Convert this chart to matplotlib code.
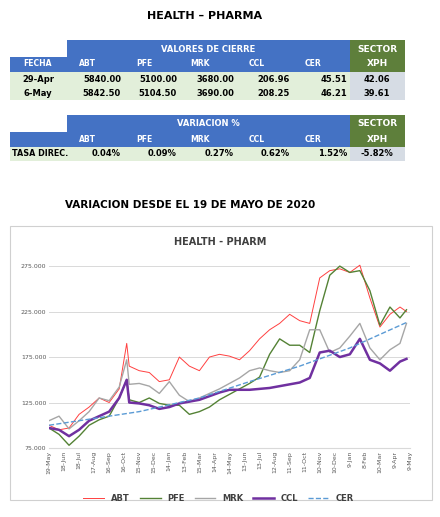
import numpy as np
import pandas as pd
import matplotlib.pyplot as plt
import matplotlib.dates as mdates
from matplotlib.patches import Rectangle

# --- data ---
tickers = ['ABT', 'PFE', 'MRK', 'CCL', 'CER']
dates_tbl = ['29-Apr', '6-May']
closes = [['5840.00', '5100.00', '3680.00', '206.96', '45.51', '42.06'],
          ['5842.50', '5104.50', '3690.00', '208.25', '46.21', '39.61']]
variacion = ['0.04%', '0.09%', '0.27%', '0.62%', '1.52%', '-5.82%']

days = [0, 20, 40, 60, 80, 100, 120, 140, 155, 160, 180, 200, 220, 240, 260, 280, 300, 320,
        340, 360, 380, 400, 420, 440, 460, 480, 500, 520, 540, 560, 580, 600, 620, 640,
        660, 680, 700, 713]
abt = [100, 95, 97, 112, 120, 130, 125, 140, 190, 165, 160, 158, 148, 150, 175, 165, 160, 175,
       178, 176, 172, 182, 195, 205, 212, 222, 215, 212, 262, 270, 272, 268, 276, 240,
       208, 222, 230, 225]
pfe = [97, 90, 78, 88, 100, 106, 110, 130, 150, 128, 125, 130, 124, 122, 122, 112, 115, 120,
       128, 134, 140, 146, 153, 178, 195, 188, 188, 180, 226, 265, 275, 268, 270, 248,
       210, 230, 218, 227]
mrk = [105, 110, 96, 105, 115, 130, 127, 142, 172, 145, 146, 143, 135, 148, 133, 126, 130, 135,
       140, 146, 152, 160, 163, 160, 158, 160, 172, 205, 205, 180, 185, 198, 212, 185,
       172, 183, 190, 212]
ccl = [97, 95, 88, 95, 105, 110, 115, 130, 150, 125, 124, 122, 118, 120, 124, 126, 128, 132,
       136, 139, 139, 139, 140, 141, 143, 145, 147, 152, 180, 182, 175, 178, 195, 172,
       168, 160, 170, 173]
cer_days = [0, 180, 300, 400, 500, 600, 713]
cer = [100, 115, 130, 148, 165, 185, 213]

start = pd.Timestamp('2020-05-19')
t = start + pd.to_timedelta(days, unit='D')
t_cer = start + pd.to_timedelta(cer_days, unit='D')

W, H = 440, 517
fig = plt.figure(figsize=(W / 100, H / 100), dpi=100)
bg = fig.add_axes([0, 0, 1, 1])
bg.set_xlim(0, W)
bg.set_ylim(H, 0)
bg.axis('off')

blue = '#4472C4'
green = '#5E7F3B'
light = '#E2EFDA'
grayc = '#D6DCE4'
cols = [10, 67, 124, 180, 237, 293, 350, 405]

bg.text(205, 16, 'HEALTH \u2013 PHARMA', ha='center', va='center', fontsize=8, fontweight='bold')


def cell(x0, x1, y0, y1, color):
    bg.add_patch(Rectangle((x0, y0), x1 - x0, y1 - y0, color=color, lw=0))


def header(y0, title):
    cell(67, 350, y0, y0 + 32, blue)
    cell(10, 67, y0 + 17, y0 + 32, blue)
    cell(350, 405, y0, y0 + 32, green)
    bg.text(208, y0 + 9, title, ha='center', va='center', color='white', fontsize=6, fontweight='bold')
    bg.text(377, y0 + 9, 'SECTOR', ha='center', va='center', color='white', fontsize=6.5, fontweight='bold')
    bg.text(377, y0 + 24, 'XPH', ha='center', va='center', color='white', fontsize=6.5, fontweight='bold')
    for i, tk in enumerate(tickers):
        bg.text(cols[i + 1] + 20, y0 + 24, tk, ha='center', va='center', color='white',
                fontsize=5.5, fontweight='bold')


header(40, 'VALORES DE CIERRE')
bg.text(38, 64, 'FECHA', ha='center', va='center', color='white', fontsize=5.5, fontweight='bold')
for r, (d, row) in enumerate(zip(dates_tbl, closes)):
    y = 72 + r * 14
    cell(10, 350, y, y + 14, light)
    cell(350, 405, y, y + 14, grayc)
    bg.text(38, y + 7, d, ha='center', va='center', fontsize=6, fontweight='bold')
    for i, v in enumerate(row):
        if i < 6 - 1:
            bg.text(cols[i + 2] - 3, y + 7, v, ha='right', va='center', fontsize=6, fontweight='bold')
        else:
            bg.text(377, y + 7, v, ha='center', va='center', fontsize=6, fontweight='bold')

header(115, 'VARIACION %')
y = 147
cell(10, 350, y, y + 14, light)
cell(350, 405, y, y + 14, grayc)
bg.text(12, y + 7, 'TASA DIREC.', ha='left', va='center', fontsize=5.8, fontweight='bold')
for i, v in enumerate(variacion):
    if i < 5:
        bg.text(cols[i + 2] - 3, y + 7, v, ha='right', va='center', fontsize=6, fontweight='bold')
    else:
        bg.text(377, y + 7, v, ha='center', va='center', fontsize=6, fontweight='bold')

bg.text(190, 205, 'VARIACION DESDE EL 19 DE MAYO DE 2020', ha='center', va='center',
        fontsize=7.5, fontweight='bold')
bg.add_patch(Rectangle((10, 226), 422, 274, fill=False, ec='#D0D0D0', lw=0.8))
bg.text(220, 242, 'HEALTH - PHARM', ha='center', va='center', fontsize=7, fontweight='bold',
        color='#404040')

ax = fig.add_axes([49 / W, 1 - 448 / H, 361 / W, (448 - 257) / H])
ax.plot(t, abt, color='#FF4040', lw=0.7, label='ABT')
ax.plot(t, pfe, color='#548235', lw=1.0, label='PFE')
ax.plot(t, mrk, color='#A6A6A6', lw=1.0, label='MRK')
ax.plot(t, ccl, color='#7030A0', lw=1.8, label='CCL')
ax.plot(t_cer, cer, color='#5B9BD5', lw=1.0, ls='--', label='CER')

ticks = start + pd.to_timedelta(np.arange(0, 721, 30), unit='D')
ax.set_xticks(ticks)
ax.set_xticklabels([d.strftime('%-d-%b') for d in ticks], rotation=90, fontsize=4.5, color='#595959')
ax.set_xlim(start, ticks[-1])
ax.set_ylim(75, 285)
ax.set_yticks([75, 125, 175, 225, 275])
ax.set_yticklabels(['75.000', '125.000', '175.000', '225.000', '275.000'], fontsize=4.5, color='#595959')
ax.grid(axis='y', color='#D9D9D9', lw=0.7)
ax.set_axisbelow(True)
for s in ['top', 'right', 'left']:
    ax.spines[s].set_visible(False)
ax.spines['bottom'].set_color('#D9D9D9')
ax.tick_params(length=0, pad=2)
ax.legend(loc='upper center', bbox_to_anchor=(0.47, -0.2), ncol=5, frameon=False,
          prop={'size': 6, 'weight': 'bold'}, handlelength=2.5, columnspacing=1.2, labelcolor='#404040')

fig.savefig('out.png', dpi=100)
